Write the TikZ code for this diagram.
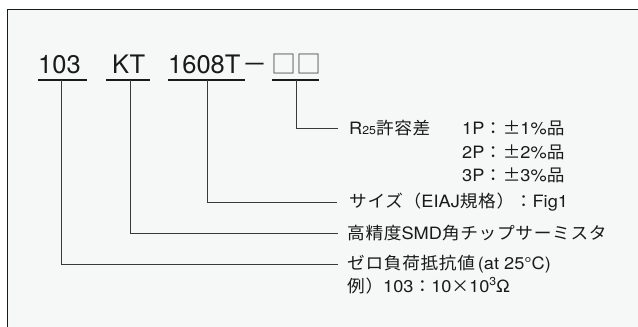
\documentclass[tikz,border=0pt]{standalone}
\usepackage{fontspec}
\setmainfont{TeX Gyre Heros}
\newfontfamily\jp[FakeStretch=1.04,LetterSpace=4]{Noto Sans CJK JP}
\newfontfamily\jpbig{Noto Sans CJK JP}
\newfontfamily\lat[FakeStretch=1.07]{TeX Gyre Heros}
\newcommand\J[1]{{\jp\fontsize{17}{20}\selectfont #1}}
\newcommand\supthree{\raisebox{0.42em}{\fontsize{11.5}{12}\selectfont 3}}
\definecolor{bg}{HTML}{F6F8F7}
\definecolor{ink}{HTML}{1A1A1A}
\definecolor{ln}{HTML}{3A3A3A}
\definecolor{boxc}{HTML}{5A5A5A}
\begin{document}
\begin{tikzpicture}[x=1pt,y=-1pt,
  code/.style={font=\fontsize{25.5}{30}\selectfont, text=ink, inner sep=0pt, anchor=base west},
  lbl/.style={font=\lat\fontsize{17}{20}\selectfont, text=ink, inner sep=0pt, anchor=west},
  uline/.style={line width=2.8pt, draw=ink},
  conn/.style={line width=0.9pt, draw=ln}]
\useasboundingbox (0,0) rectangle (638,327);
\fill[white] (0,0) rectangle (638,327);
\fill[bg] (7.5,9.5) rectangle (638,327);
\draw[line width=1.6pt, ink] (7.5,327) -- (7.5,9.5) -- (638,9.5);
% part number
\node[code] (n103) at (38,73) {103};
\node[code] (nkt) at (112,73) {KT};
\node[code] (nsize) at (168,73) {1608T};
\node[font=\jpbig\fontsize{25}{30}\selectfont, text=ink, inner sep=0pt, anchor=base west] (ndash) at (242.5,73) {－};
\node[font=\jpbig\fontsize{25}{30}\selectfont, text=boxc, inner sep=0pt, anchor=base] (nbox) at (296,73) {□□};
% underlines
\coordinate (u1a) at (38,80);  \coordinate (u1b) at (87,80);
\coordinate (u2a) at (106,80); \coordinate (u2b) at (150,80);
\coordinate (u3a) at (168,80); \coordinate (u3b) at (245,80);
\coordinate (u4a) at (272,80); \coordinate (u4b) at (319,80);
\draw[uline] (u1a) -- (u1b);
\draw[uline] (u2a) -- (u2b);
\draw[uline] (u3a) -- (u3b);
\draw[uline] (u4a) -- (u4b);
\coordinate (c1) at (61,80);
\coordinate (c2) at (130,80);
\coordinate (c3) at (207,80);
\coordinate (c4) at (296,80);
% labels
\node[lbl] (l1) at (349,128) {R{\fontsize{11.5}{12}\selectfont 25}\J{許容差}};
\node[lbl] (l1b) at (462,128) {1P\J{：±}1\%\J{品}};
\node[lbl] (l2) at (462,152) {2P\J{：±}2\%\J{品}};
\node[lbl] (l3) at (462,175) {3P\J{：±}3\%\J{品}};
\node[lbl] (l4) at (349,202) {\J{サイズ（}EIAJ\J{規格）：}Fig1};
\node[lbl] (l5) at (347,233) {\J{高精度}SMD\J{角チップサーミスタ}};
\node[lbl] (l6) at (347,264) {\J{ゼロ負荷抵抗値}\,(at 25°C)};
\node[lbl] (l7) at (347,286) {\J{例）}103\J{：}10\J{×}10\supthree Ω};
% connectors
\draw[conn] (c4) |- ([xshift=-11pt]l1.west);
\draw[conn] (c3) |- ([xshift=-12pt]l4.west);
\draw[conn] (c2) |- ([xshift=-9pt]l5.west);
\draw[conn] (c1) |- ([xshift=-9pt]l6.west);
\end{tikzpicture}
\end{document}
